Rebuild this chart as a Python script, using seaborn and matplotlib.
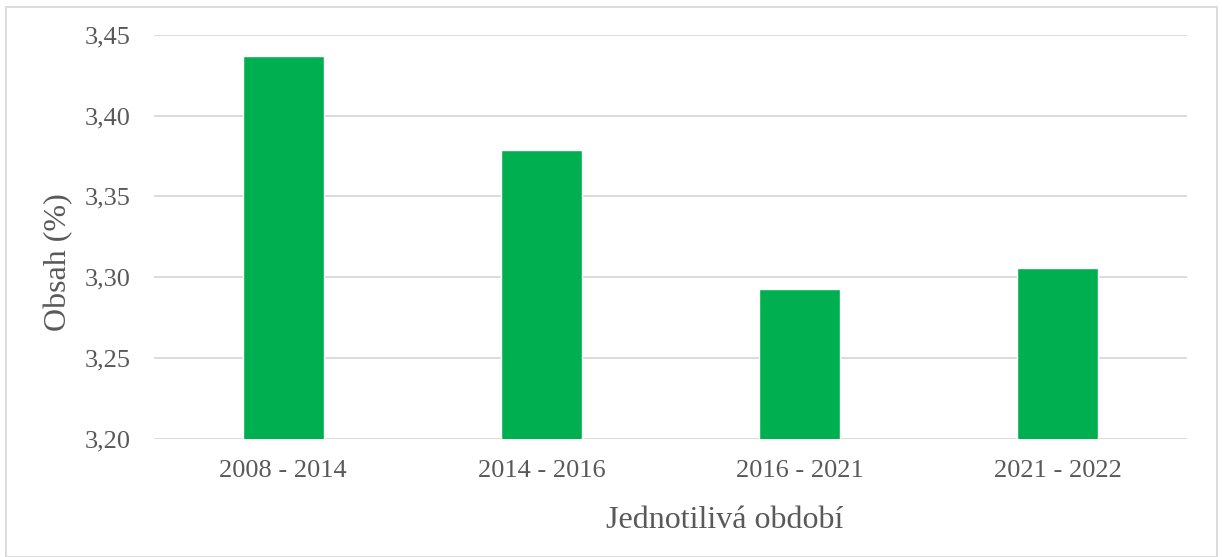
import matplotlib
matplotlib.use("Agg")
import matplotlib.pyplot as plt
import seaborn as sns
import pandas as pd
from matplotlib.ticker import FuncFormatter
from matplotlib.patches import Rectangle

categories = ["2008 - 2014", "2014 - 2016", "2016 - 2021", "2021 - 2022"]
values = [3.437, 3.379, 3.293, 3.306]
y_ticks = [3.20, 3.25, 3.30, 3.35, 3.40, 3.45]

df = pd.DataFrame({"obdobi": categories, "obsah": values})

sns.set_theme(style="white")
plt.rcParams["font.family"] = ["Liberation Serif", "DejaVu Serif"]

fig = plt.figure(figsize=(12.22, 5.57), dpi=100)
ax = fig.add_axes([154/1222, 1-439/557, (1187-154)/1222, (439-34.7)/557])

sns.barplot(data=df, x="obdobi", y="obsah", color="#00B050", saturation=1,
            width=0.314, ax=ax, zorder=3)

ax.set_ylim(3.20, 3.45)
ax.set_yticks(y_ticks)
ax.yaxis.set_major_formatter(FuncFormatter(lambda v, p: f"{v:.2f}".replace(".", ",")))
ax.grid(axis="y", color="#d9d9d9", linewidth=1.3, zorder=0)
ax.set_axisbelow(True)
for s in ax.spines.values():
    s.set_visible(False)
ax.tick_params(axis="both", length=0, labelsize=19, labelcolor="#595959")
ax.tick_params(axis="y", pad=17)
ax.tick_params(axis="x", pad=15)
ax.set_xlabel("")
ax.set_ylabel("")

fig.text(725/1222, 1-520/557, "Jednotilivá období", ha="center", va="center",
         fontsize=23, color="#595959")
fig.text(59/1222, 1-262/557, "Obsah (%)", ha="center", va="center", rotation=90,
         fontsize=23, color="#595959")

fig.patches.append(Rectangle((6/1222, 0.5/557), 1211/1222, 550/557, transform=fig.transFigure,
                             fill=False, edgecolor="#d9d9d9", linewidth=1.3))

fig.savefig("out.png", dpi=100)
